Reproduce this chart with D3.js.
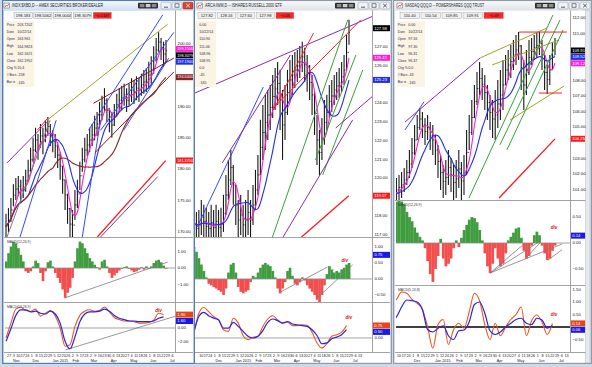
<!DOCTYPE html>
<html><head><meta charset="utf-8">
<script src="https://cdn.jsdelivr.net/npm/d3@7"></script>
<style>body{margin:0;background:#cdd8e6;}svg{display:block;font-family:"Liberation Sans",Arial,sans-serif;}</style>
</head><body><script>
// ---------- shared time axis ----------
const firstDate = new Date(2014, 9, 22), lastDate = new Date(2015, 5, 26);
const monthStarts = ["2014-11-01","2014-12-01","2015-01-01","2015-02-01","2015-03-01","2015-04-01","2015-05-01","2015-06-01","2015-07-01"];
const monthLabels = ["Nov","Dec","Jan 2015","Feb","Mar","Apr","May","Jun","Jul"];
const weekLabels = ["27","3","10","17","24","1","8","15","22","29","5","12","20","26","2","9","17","23","2","9","16","23","30","6","13","20","27","4","11","18","26","1","8","15","22","29","6","13"];
const infoLabels = ["Price","Date","Open","High","Low","Close","Chg %","# Bars","Bar ix"];

// ---------- Panel 1 : INDX:$XBD ----------
const xbdTitle = "INDX:$XBD,D -- AMEX SECURITIES BROKER/DEALER";
const xbdQuote = [198.183, 198.5062, 198.0044, 198.3079, -0.0187];
const xbdInfo = ["203.7202","10/22/14","163.961","164.9823","162.1621","162.1952","10.4","-158","-165"];
const xbdHigh = [172.9,173.8,175.4,177.6,178.6,178.9,178.3,178.9,179.9,181.5,183.4,185.0,186.6,185.6,187.2,186.6,187.8,188.3,187.2,186.2,185.6,184.3,182.7,180.5,178.3,176.1,173.8,173.5,176.7,178.3,181.2,183.4,185.0,185.6,186.6,187.2,188.5,189.1,190.7,191.7,192.9,191.3,189.7,189.1,190.4,192.0,192.9,193.3,193.6,192.9,193.6,194.5,194.2,194.8,194.5,195.2,195.8,196.1,197.1,198.0,199.6,200.9,201.8,200.9,200.3,200.6];
const xbdLow = [169.0,170.0,171.6,174.1,175.1,175.7,174.8,175.4,176.4,178.0,179.6,181.1,182.7,181.5,183.4,182.4,184.3,185.3,183.7,182.7,181.8,180.2,178.3,176.1,173.5,171.3,168.7,168.7,171.9,173.8,176.7,179.6,181.1,182.1,182.7,183.7,184.6,185.3,186.6,187.8,189.1,187.5,185.9,185.0,186.9,188.5,189.1,189.4,190.1,189.1,190.1,190.7,190.4,191.0,190.7,191.7,192.0,192.3,192.9,193.6,195.2,197.1,198.7,197.4,196.4,197.1];
const xbdHist = [0.4,0.9,1.3,1.6,1.5,1.2,0.8,0.4,-0.2,-0.3,-0.2,0.1,0.45,0.3,-0.3,-0.8,-0.2,0.35,0.45,0.1,-0.3,-0.6,-0.9,-1.3,-1.8,-1.5,-1.2,-0.6,0.4,1.2,1.6,1.5,1.2,0.9,0.6,0.4,0.2,0.05,-0.1,0.4,0.5,0.1,-0.3,-0.6,-0.45,-0.3,-0.15,-0.05,0.05,0.1,-0.05,-0.15,-0.25,-0.2,-0.1,0.05,-0.1,0.1,-0.05,0.1,0.3,0.45,0.5,0.35,0.15,-0.05];
const xbdMacd = [-1.4,0.7,2.7,3.0,2.5,2.4,2.7,1.7,2.1,2.5,1.7,0.0,-2.6,-2.4,0.2,1.8,2.4,2.6,2.4,2.5,3.0,2.3,1.5,1.2,1.0,1.0,0.9,0.7,0.7,0.8,1.1,2.1,1.9];
const xbdSignal = [-1.9,-0.1,1.8,2.6,2.6,2.3,2.4,2.1,2.0,2.4,2.0,0.7,-1.9,-3.0,-1.3,0.9,2.0,2.3,2.3,2.4,2.7,2.4,1.8,1.4,1.2,1.0,1.0,0.9,0.9,0.9,1.0,1.4,1.6];
const xbdPriceTicks = [170,175,180,185,190,195,200];
const xbdHistTicks = [-1,0,1];
const xbdLineTicks = [-2,0,2];
const xbdTrend = [["purple",0.4,181.0,16.7,187.5],["olive",16.7,187.8,65.7,203.1],["red",12.7,186.2,17.1,188.2],
  ["blue",5.7,169.2,20.4,187.8],["blue",31.0,169.2,38.4,187.8],["blue",33.5,186.2,63.7,204.6],["blue",38.4,186.2,68.2,201.8],["blue",47.8,186.2,66.1,197.7],
  ["darkred",35.5,190.5,68.2,197.7],["darkred",36.3,182.7,68.2,195.5],["purple",38.4,169.2,61.6,178.8],["gray",0.4,169.2,17.9,187.8]];
const xbdRedLine = [[37.1,169.2],[64.9,181.37]];
const xbdHistLines = [[23.7,-1.82,65.7,0.36]];
const xbdMacdLines = [[24.1,-3.14,69.0,1.71]];
const xbdDivs = [["lines",62,2.45]];

// ---------- Panel 2 : ARCA:IWM ----------
const iwmTitle = "ARCA:IWM,D -- ISHARES RUSSELL 2000 ETF";
const iwmQuote = [127.82, 128.16, 127.60, 127.98, -0.06];
const iwmInfo = ["0.00","10/22/14","110.90","111.06","108.96","108.95","0.0","-45","-165"];
const iwmHigh = [118.59,118.85,118.59,118.21,118.32,118.85,118.59,118.43,118.21,118.59,118.32,118.59,118.32,118.43,119.12,120.18,120.98,121.51,120.71,119.65,118.85,119.12,118.59,118.85,119.38,118.85,119.65,120.45,121.24,123.11,123.90,124.44,124.70,124.97,125.50,125.87,126.19,125.77,124.70,124.97,125.77,126.30,126.56,126.72,126.83,127.04,127.26,126.94,126.56,126.03,125.50,124.60,123.37,122.57,123.21,124.17,124.44,124.97,125.23,125.50,125.66,125.87,126.19,126.56,127.63,128.43];
const iwmLow = [116.46,116.72,116.46,116.46,116.72,116.99,116.83,116.46,116.46,116.72,116.46,116.83,116.46,116.72,117.15,118.05,118.85,119.65,118.59,117.52,116.72,116.99,116.46,116.72,116.99,116.72,117.52,118.32,119.12,120.18,120.98,121.51,122.04,122.57,123.21,123.64,123.90,122.57,120.98,122.04,123.37,124.17,124.44,124.81,125.13,125.34,125.66,125.13,124.60,124.17,123.37,122.31,120.71,120.18,120.98,121.78,122.57,123.21,123.53,123.90,124.17,124.28,124.60,124.97,125.77,127.10];
const iwmHist = [1.3,1.2,1.0,0.85,0.65,0.45,0.25,0.05,-0.15,-0.2,-0.25,-0.3,-0.35,-0.4,-0.5,-0.3,0.2,0.45,0.5,0.2,-0.25,-0.4,-0.45,-0.4,-0.35,-0.1,0.1,0.05,0.2,0.35,0.45,0.5,0.45,0.4,0.25,0.05,-0.3,-0.45,-0.3,-0.1,0.25,0.35,0.1,-0.15,-0.2,-0.1,0.05,-0.05,-0.2,-0.3,-0.4,-0.5,-0.65,-0.75,-0.5,-0.2,0.15,0.4,0.3,0.2,0.25,0.2,0.3,0.35,0.45,0.5];
const iwmMacd = [-0.5,0.3,1.5,1.85,1.6,1.3,1.1,0.5,0.4,1.2,0.9,0.15,-0.1,0.05,0.1,0.7,1.15,1.35,1.1,0.9,0.95,0.75,0.75,0.8,0.75,0.35,-0.3,-0.6,-0.35,0.1,0.2,0.35,0.75];
const iwmSignal = [-0.6,0.4,1.3,1.55,1.35,1.2,1.1,0.6,0.6,0.95,0.7,0.4,0.1,0.0,0.1,0.45,0.95,1.15,1.05,0.9,1.0,0.85,0.8,0.75,0.7,0.5,0.15,-0.35,-0.3,-0.05,0.05,0.2,0.5];
const iwmPriceTicks = [117,118,119,120,121,122,123,124,125,126,127,128];
const iwmHistTicks = [-0.5,0,0.5,1];
const iwmLineTicks = [0,1,2];
const iwmTrend = [["purple",0,124.40,75.9,128.69],["red",34.3,123.64,50.6,127.73],["red",34.3,123.74,69.8,128.43],
  ["blue",3.3,117.41,30.2,124.86],["purple",13.5,120.82,41.2,126.56],["green",33.9,116.88,64.5,128.43],["green",51.4,120.98,67.8,126.56],
  ["green",54.3,120.18,70.6,125.77],["purple",38.0,116.83,66.5,123.11],["purple",59.6,122.68,74.7,124.38]];
const iwmRedLine = [[45.3,116.83],[64.9,119.07]];
const iwmHistLines = [[37.1,-0.41,56.3,0.375],[52.2,-0.59,66.5,0.44]];
const iwmMacdLines = [];
const iwmDivs = [["hist",63.3,0.56],["lines",64.9,1.21]];

// ---------- Panel 3 : NASDAQ:QQQ ----------
const qqqTitle = "NASDAQ:QQQ,D -- POWERSHARES QQQ TRUST";
const qqqQuote = [110.40, 110.54, 109.85, 109.91, -0.49];
const qqqInfo = ["0.00","10/22/14","97.16","97.30","96.31","96.37","0.0","-43","-165"];
const qqqHigh = [101.29,101.62,101.29,101.62,101.74,101.94,102.13,102.38,102.90,103.54,104.31,105.14,105.78,106.23,105.97,105.59,105.78,105.33,105.14,104.50,103.86,103.22,102.58,102.90,103.54,103.03,102.58,102.90,103.54,102.77,103.22,104.82,105.78,106.74,107.71,108.54,109.18,108.79,108.35,107.71,107.06,106.74,107.38,108.03,108.67,109.31,109.63,109.95,110.27,110.59,110.91,111.10,110.27,109.31,109.95,110.59,110.72,110.91,111.04,111.10,110.59,109.63,108.99,109.63,110.46,110.72];
const qqqLow = [99.69,100.01,99.82,100.01,100.21,100.33,100.46,100.85,101.29,101.74,102.38,103.22,104.18,104.82,104.31,103.86,104.18,103.54,103.22,102.58,101.74,100.97,100.46,100.65,101.29,100.85,100.33,100.46,101.10,100.33,100.65,101.94,103.54,104.50,105.59,106.42,107.06,106.74,106.10,105.46,104.82,104.31,104.18,104.95,105.46,106.10,107.71,108.03,108.15,108.67,108.99,109.31,107.38,106.10,107.06,108.35,108.99,109.31,109.44,109.63,108.67,107.38,107.13,107.71,108.67,109.63];
const qqqHist = [0.9,0.9,0.9,0.85,0.8,0.85,0.8,0.75,0.6,0.5,0.42,0.3,0.2,0.12,0.05,-0.1,-0.35,-0.6,-0.75,-0.5,-0.25,0.08,-0.3,-0.45,-0.4,-0.3,-0.1,0.05,-0.08,0.1,0.25,0.35,0.45,0.5,0.48,0.4,0.25,0.05,-0.2,-0.45,-0.58,-0.4,-0.1,-0.3,-0.45,-0.4,-0.2,0.05,0.12,0.2,0.28,0.3,0.1,-0.15,-0.3,-0.25,-0.05,0.15,0.22,0.15,-0.05,-0.2,-0.33,-0.3,-0.15,-0.05];
const qqqMacd = [0.3,0.9,1.1,1.4,1.35,1.1,0.95,0.7,0.0,-0.85,0.1,0.3,-0.7,-0.1,0.15,-0.05,0.6,1.35,1.05,0.1,-0.5,0.15,-0.35,0.0,0.3,0.5,0.8,-0.35,0.25,0.48,0.2,-0.3,0.14];
const qqqSignal = [-0.3,0.2,0.4,0.8,1.08,1.05,1.0,0.7,-0.1,-0.2,-0.05,0.05,-0.35,-0.5,-0.15,-0.12,0.2,0.9,1.0,0.55,-0.15,-0.3,-0.2,0.0,0.15,0.3,0.35,0.15,0.1,0.35,0.28,-0.05,0.06];
const qqqPriceTicks = [101,102,103,104,105,106,107,108,109,110,111,112];
const qqqHistTicks = [-0.5,0,0.5];
const qqqLineTicks = [-0.5,0,0.5,1,1.5];
const qqqTrend = [["purple",7.3,105.33,36.2,109.44],["blue",7.3,104.82,14.6,106.62],["olive",36.2,109.44,61.9,111.36],
  ["olive",40.8,108.99,66.5,110.59],["olive",47.7,105.46,68.5,107.64],["green",31.9,100.46,64.2,112.19],["green",43.8,103.86,66.9,111.87],
  ["green",46.5,103.54,68.1,111.23],["red",51.2,111.10,69.6,111.10],["red",58.8,107.19,67.7,107.19]];
const qqqRedLine = [[43.5,100.46],[65.0,104.25]];
const qqqHistLines = [[40,-0.58,67.7,-0.02],[40,-0.58,53.5,0.0],[40,-0.58,58.8,0.02],[54.2,-0.27,59.2,0.0],[62.3,-0.33,67.7,-0.13]];
const qqqMacdLines = [];
const qqqDivs = [["hist",64.6,0.29],["lines",64.6,0.48]];

// ---------- styles ----------
const trendColor = {olive:"#a3a324", purple:"#8a2ca8", blue:"#3548ff", red:"#ff2020", green:"#35a335", darkred:"#8b1a1a", gray:"#7a7a7a"};
const maColor = {magenta:"#ff1fd2", blue:"#1f2fe6", darkred:"#8b2525"};
const F = "Liberation Sans, Arial, sans-serif";
const parse = d3.timeParse("%Y-%m-%d");

const svg = d3.select("body").append("svg").attr("width",592).attr("height",367);
const defs = svg.append("defs");
function grad(id,c1,c2){const lg=defs.append("linearGradient").attr("id",id).attr("x1",0).attr("y1",0).attr("x2",0).attr("y2",1);
  lg.append("stop").attr("offset","0%").attr("stop-color",c1);lg.append("stop").attr("offset","100%").attr("stop-color",c2);}
grad("tbA","#f4f8fd","#d2e0f1"); grad("tbI","#f8f8f8","#e0e4ea");
svg.append("rect").attr("width",592).attr("height",367).attr("fill","#cfd9e6");

function txt(g,x,y,s,fs,fill,anchor){return g.append("text").attr("x",x).attr("y",y).attr("font-size",fs).attr("fill",fill||"#000")
  .attr("font-family",F).attr("dominant-baseline","middle").attr("text-anchor",anchor||"start").text(s);}

function placeMarkers(list, scale, range, h){
  const items=list.map(d=>({...d,y:scale(d.v)})).sort((a,b)=>a.y-b.y);
  for(let k=1;k<items.length;k++) if(items[k].y-items[k-1].y<h) items[k].y=items[k-1].y+h;
  for(let k=items.length-1;k>=0;k--){const lim=k===items.length-1?range[1]-h/2:items[k+1].y-h; if(items[k].y>lim) items[k].y=lim;}
  return items;
}

function drawPanel(c){
  const g=svg.append("g");
  const [wx0,wx1]=c.win,[px0,px1]=c.plot,P=c.panes,vis=c.visibleX||0;
  const n=c.high.length;
  const xI=d3.scaleLinear().domain([0,n-1]).range(c.xr);
  const xT=d3.scaleTime().domain([firstDate,lastDate]).range(c.xr);
  const mR=c.markerRight||wx1-2, mL=px1+1;
  // window
  g.append("rect").attr("x",wx0+0.5).attr("y",0.5).attr("width",wx1-wx0-1).attr("height",363)
    .attr("fill",c.active?"#b3c8e4":"#d2dae5").attr("stroke",c.active?"#5a7db0":"#8e9aab");
  g.append("rect").attr("x",wx0+1.5).attr("y",1.2).attr("width",wx1-wx0-3).attr("height",8.8).attr("fill",`url(#${c.active?"tbA":"tbI"})`);
  const ix=c.titleX-8;
  if(ix>=vis){g.append("rect").attr("x",ix).attr("y",3).attr("width",5.5).attr("height",5).attr("fill","#fff").attr("stroke","#555").attr("stroke-width",0.5);
    g.append("path").attr("d",`M${ix+1},7.2L${ix+2.4},5L${ix+3.4},6.3L${ix+4.8},3.8`).attr("fill","none").attr("stroke","#c00").attr("stroke-width",0.6);}
  txt(g,c.titleX,6,c.title,4.6,"#1b1b1b").attr("textLength",c.titleLen).attr("lengthAdjust","spacingAndGlyphs");
  const wg=wx1-57;
  g.append("rect").attr("x",wg).attr("y",2.8).attr("width",20).attr("height",5.6).attr("rx",0.8).attr("fill","#2d2d2d");
  [0,1,2].forEach(k=>g.append("rect").attr("x",wg+1.8+k*6).attr("y",4).attr("width",4.6).attr("height",3.2).attr("fill",k===1?"#cfcfcf":"#8a8a8a"));
  [["min",wx1-34],["max",wx1-23],["close",wx1-12]].forEach(([t,bx])=>{
    const red=t==="close"&&c.active, col=red?"#fff":"#333", cx=bx+5, cy=5.6;
    g.append("rect").attr("x",bx).attr("y",2.2).attr("width",10).attr("height",6.8).attr("rx",1).attr("fill",red?"#d8452f":"#eef2f7").attr("stroke",red?"#8f2a1c":"#8c98aa").attr("stroke-width",0.5);
    if(t==="min") g.append("line").attr("x1",cx-2).attr("x2",cx+2).attr("y1",cy+1.6).attr("y2",cy+1.6).attr("stroke",col).attr("stroke-width",0.8);
    if(t==="max") g.append("rect").attr("x",cx-2).attr("y",cy-1.8).attr("width",4).attr("height",3.4).attr("fill","none").attr("stroke",col).attr("stroke-width",0.6);
    if(t==="close") g.append("path").attr("d",`M${cx-1.8},${cy-1.7}L${cx+1.8},${cy+1.7}M${cx+1.8},${cy-1.7}L${cx-1.8},${cy+1.7}`).attr("stroke",col).attr("stroke-width",0.8);
  });
  g.append("rect").attr("x",wx0+2).attr("y",10.5).attr("width",wx1-wx0-4).attr("height",352).attr("fill","#fff");
  if(c.scrollbar) g.append("rect").attr("x",c.scrollbar).attr("y",10.5).attr("width",wx1-2-c.scrollbar).attr("height",352).attr("fill","#e6e8eb").attr("stroke","#b5b9bf").attr("stroke-width",0.5);
  const clip=(name,y0,y1)=>{const id=`${c.id}-${name}`;defs.append("clipPath").attr("id",id).append("rect").attr("x",px0).attr("y",y0).attr("width",px1-px0).attr("height",y1-y0);return `url(#${id})`;};
  const tickFilter=(ticks,scale,range,marks)=>ticks.filter(t=>{const y=scale(t);return y>range[0]+2.5&&y<range[1]-2&&!marks.some(m=>Math.abs(m.y-y)<4.5);});
  const drawMarks=(items,fs,fmt)=>items.forEach(d=>{g.append("rect").attr("x",mL).attr("y",d.y-3.1).attr("width",mR-mL).attr("height",6).attr("fill",d.fill);
    txt(g,mL+1.2,d.y+0.2,fmt(d.v),fs,"#fff");});

  // ---- price pane ----
  const yP=d3.scaleLinear().domain(c.priceDomain).range([P.price[1],P.price[0]]);
  const pg=g.append("g").attr("clip-path",clip("price",P.price[0],P.price[1]));
  const mid=c.high.map((h,i)=>(h+c.low[i])/2);
  const bars=pg.append("g").attr("stroke","#181818");
  bars.selectAll("line.hl").data(c.high).join("line").attr("class","hl")
    .attr("x1",(d,i)=>xI(i)).attr("x2",(d,i)=>xI(i)).attr("y1",d=>yP(d)).attr("y2",(d,i)=>yP(c.low[i])).attr("stroke-width",1.1);
  bars.selectAll("line.op").data(mid).join("line").attr("class","op")
    .attr("x1",(d,i)=>xI(i)-1).attr("x2",(d,i)=>xI(i)).attr("y1",(d,i)=>yP(i?mid[i-1]:d)).attr("y2",(d,i)=>yP(i?mid[i-1]:d)).attr("stroke-width",0.8);
  bars.selectAll("line.cl").data(mid).join("line").attr("class","cl")
    .attr("x1",(d,i)=>xI(i)).attr("x2",(d,i)=>xI(i)+1).attr("y1",d=>yP(d)).attr("y2",d=>yP(d)).attr("stroke-width",0.8);
  const sma=len=>mid.map((_,i)=>d3.mean(mid.slice(Math.max(0,i-len+1),i+1)));
  const maLine=d3.line().x((d,i)=>xI(i)).y(d=>yP(d)).curve(d3.curveMonotoneX);
  const marks=[{v:c.quote[3],fill:"#000"}];
  c.mas.forEach(([len,col])=>{const s=sma(len);pg.append("path").attr("d",maLine(s)).attr("fill","none").attr("stroke",maColor[col]).attr("stroke-width",1.1);marks.push({v:s[n-1],fill:maColor[col]});});
  c.trends.forEach(([k,i1,v1,i2,v2])=>pg.append("line").attr("x1",xI(i1)).attr("y1",yP(v1)).attr("x2",xI(i2)).attr("y2",yP(v2)).attr("stroke",trendColor[k]).attr("stroke-width",1));
  pg.append("path").attr("d",d3.line().x(d=>xI(d[0])).y(d=>yP(d[1]))(c.redLine)).attr("fill","none").attr("stroke","#ff1a1a").attr("stroke-width",1.3);
  marks.push({v:c.redLine[c.redLine.length-1][1],fill:"#ff1a1a"});
  const pm=placeMarkers(marks,yP,P.price,6.4);
  tickFilter(c.priceTicks,yP,P.price,pm).forEach(t=>txt(g,px1+2.5,yP(t),d3.format(".2f")(t),4.3,"#111"));
  drawMarks(pm,c.markFs,d3.format(c.markFmt));
  // info box
  g.append("rect").attr("x",c.infoX).attr("y",21).attr("width",28).attr("height",66).attr("fill","#fcf4e2");
  infoLabels.forEach((lab,k)=>{const y=25+k*7.2; if(c.infoX+1>=vis) txt(g,c.infoX+0.8,y,lab,3.3,"#1d2660"); txt(g,c.infoX+11.2,y,c.info[k],3.6,"#1d2660");});
  // toolbar
  c.quote.forEach((q,k)=>{const bx=c.toolbarX+k*c.toolbarW, chg=k===4;
    g.append("rect").attr("x",bx).attr("y",12.2).attr("width",c.toolbarW-1.6).attr("height",6.4).attr("fill",chg?"#ff2525":"#f1f1f1").attr("stroke","#9a9a9a").attr("stroke-width",0.4);
    txt(g,bx+(c.toolbarW-1.6)/2,15.6,d3.format(c.quoteFmt)(q),4,"#111","middle");});

  // ---- histogram pane ----
  const yH=d3.scaleLinear().domain(c.histDomain).range([P.hist[1],P.hist[0]]);
  const hg=g.append("g").attr("clip-path",clip("hist",P.hist[0],P.hist[1]));
  const bw=xI(1)-xI(0);
  hg.selectAll("rect").data(c.hist).join("rect").attr("x",(d,i)=>xI(i)-bw/2).attr("width",bw+0.2)
    .attr("y",d=>Math.min(yH(d),yH(0))).attr("height",d=>Math.abs(yH(d)-yH(0))).attr("fill",d=>d>=0?"#3f9d3f":"#f24e4e");
  hg.append("line").attr("x1",px0).attr("x2",px1).attr("y1",yH(0)).attr("y2",yH(0)).attr("stroke","#8a8a8a").attr("stroke-width",0.8);
  c.histLines.forEach(([i1,v1,i2,v2])=>hg.append("line").attr("x1",xI(i1)).attr("y1",yH(v1)).attr("x2",xI(i2)).attr("y2",yH(v2)).attr("stroke","#7d7d7d").attr("stroke-width",0.8));
  const hm=c.histMarker?placeMarkers([{v:c.macd[c.macd.length-1],fill:"#1a1ae6"}],yH,P.hist,6.4):[];
  tickFilter(c.histTicks,yH,P.hist,hm).forEach(t=>txt(g,px1+2.5,yH(t),d3.format(".2f")(t),4.3,"#111"));
  drawMarks(hm,4.2,d3.format(".2f"));
  if(px0+2>=vis) txt(g,px0+2,P.hist[0]+4,"MACD(12,26,9)",3.4,"#333");

  // ---- MACD lines pane ----
  const yL=d3.scaleLinear().domain(c.linesDomain).range([P.lines[1],P.lines[0]]);
  const lg=g.append("g").attr("clip-path",clip("lines",P.lines[0],P.lines[1]));
  lg.append("line").attr("x1",px0).attr("x2",px1).attr("y1",yL(0)).attr("y2",yL(0)).attr("stroke",c.blackZero?"#000":"#8a8a8a").attr("stroke-width",c.blackZero?1.3:0.8);
  c.macdLines.forEach(([i1,v1,i2,v2])=>lg.append("line").attr("x1",xI(i1)).attr("y1",yL(v1)).attr("x2",xI(i2)).attr("y2",yL(v2)).attr("stroke","#7d7d7d").attr("stroke-width",0.8));
  const ln=d3.line().x((d,k)=>xI(k*2)).y(d=>yL(d)).curve(d3.curveMonotoneX);
  lg.append("path").attr("d",ln(c.macd)).attr("fill","none").attr("stroke","#f0561e").attr("stroke-width",1.1);
  lg.append("path").attr("d",ln(c.signal)).attr("fill","none").attr("stroke","#2424e8").attr("stroke-width",1.2);
  const lm=placeMarkers([{v:c.macd[c.macd.length-1],fill:"#e4461a"},{v:c.signal[c.signal.length-1],fill:"#1a1ae6"}],yL,P.lines,6.4);
  tickFilter(c.lineTicks,yL,P.lines,lm).forEach(t=>txt(g,px1+2.5,yL(t),d3.format(".2f")(t),4.3,"#111"));
  drawMarks(lm,4.2,d3.format(".2f"));
  if(px0+2>=vis) txt(g,px0+2,P.lines[0]+4,c.lineTitle,3.4,"#333");
  c.divs.forEach(([pane,i,v])=>txt(g,xI(i),(pane==="hist"?yH:yL)(v),"div",4.6,"#e01010","middle").attr("font-style","italic").attr("font-weight","bold"));

  // ---- separators ----
  [P.price[1],P.hist[1],P.lines[1]].forEach(y=>g.append("line").attr("x1",wx0+2).attr("x2",(c.scrollbar||wx1-2)).attr("y1",y+0.5).attr("y2",y+0.5).attr("stroke","#8c8c8c").attr("stroke-width",0.8));
  g.append("line").attr("x1",px1+0.5).attr("x2",px1+0.5).attr("y1",10.5).attr("y2",P.lines[1]).attr("stroke","#8c8c8c").attr("stroke-width",0.8);

  // ---- date axis ----
  const lo=Math.max(px0,vis)+2;
  const mondays=d3.timeMonday.range(new Date(2014,9,27),new Date(2015,6,14));
  mondays.forEach((d,k)=>{const x=xT(d); if(x>=lo&&x<=px1-2) txt(g,x,356.3,weekLabels[k],3.8,"#222","middle");});
  monthStarts.forEach((s,k)=>{const x=xT(parse(s)); if(x>=lo-2&&x<=px1) txt(g,x+0.5,360.6,monthLabels[k],3.8,"#222");});
}

const common={panes:{price:[11,237],hist:[238,302],lines:[303,352]}};
drawPanel({...common,id:"p2",win:[184,392],plot:[188,372],xr:[189,349],visibleX:196,title:iwmTitle,titleX:205,titleLen:77,
  quote:iwmQuote,quoteFmt:".2f",toolbarX:198,toolbarW:19.5,info:iwmInfo,infoX:188,
  high:iwmHigh,low:iwmLow,priceDomain:[116.88,128.9],priceTicks:iwmPriceTicks,mas:[[4,"magenta"],[10,"blue"]],markFmt:".2f",markFs:4.2,
  trends:iwmTrend,redLine:iwmRedLine,hist:iwmHist,histDomain:[-0.72,1.28],histTicks:iwmHistTicks,histMarker:true,histLines:iwmHistLines,
  macd:iwmMacd,signal:iwmSignal,linesDomain:[-0.85,2.12],lineTicks:iwmLineTicks,macdLines:iwmMacdLines,lineTitle:"MACD(12,26,9)",divs:iwmDivs});
drawPanel({id:"p3",panes:{price:[11,200],hist:[201,285],lines:[286,352]},win:[393,592],plot:[396,570],xr:[386,555],visibleX:396,scrollbar:585.5,markerRight:585,
  title:qqqTitle,titleX:405,titleLen:79,quote:qqqQuote,quoteFmt:".2f",toolbarX:400,toolbarW:21,info:qqqInfo,infoX:397,
  high:qqqHigh,low:qqqLow,priceDomain:[100.33,112.45],priceTicks:qqqPriceTicks,mas:[[4,"magenta"],[10,"blue"]],markFmt:".2f",markFs:4.2,
  trends:qqqTrend,redLine:qqqRedLine,hist:qqqHist,histDomain:[-0.81,0.81],histTicks:qqqHistTicks,histMarker:true,histLines:qqqHistLines,
  macd:qqqMacd,signal:qqqSignal,linesDomain:[-1.0,1.64],lineTicks:qqqLineTicks,macdLines:qqqMacdLines,lineTitle:"MACD(5,13,8)",blackZero:true,divs:qqqDivs});
drawPanel({...common,id:"p1",active:true,win:[2,195],plot:[5,175],xr:[6,166],title:xbdTitle,titleX:12,titleLen:91,
  quote:xbdQuote,quoteFmt:".4~f",toolbarX:14,toolbarW:19.8,info:xbdInfo,infoX:6,
  high:xbdHigh,low:xbdLow,priceDomain:[169.2,205.2],priceTicks:xbdPriceTicks,mas:[[4,"magenta"],[10,"blue"],[20,"darkred"]],markFmt:".4f",markFs:3.8,
  trends:xbdTrend,redLine:xbdRedLine,hist:xbdHist,histDomain:[-2.06,1.82],histTicks:xbdHistTicks,histMarker:false,histLines:xbdHistLines,
  macd:xbdMacd,signal:xbdSignal,linesDomain:[-3.43,3.57],lineTicks:xbdLineTicks,macdLines:xbdMacdLines,lineTitle:"MACD(12,26,9)",divs:xbdDivs});
</script></body></html>
